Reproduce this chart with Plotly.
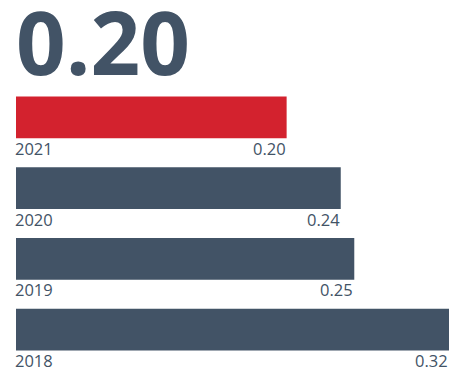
import plotly.graph_objects as go

years = ["2021", "2020", "2019", "2018"]
values = [0.20, 0.24, 0.25, 0.32]
value_labels = ["0.20", "0.24", "0.25", "0.32"]
headline = "0.20"

SLATE = "#425366"
RED = "#d3222e"
bar_colors = [RED, SLATE, SLATE, SLATE]

# bottom-to-top order of the category axis
cat_order = years[::-1]

fig = go.Figure(
    go.Bar(
        x=values,
        y=years,
        orientation="h",
        marker=dict(color=bar_colors, line=dict(width=0)),
        hoverinfo="skip",
    )
)

label_font = dict(family="Open Sans", size=16.5, color=SLATE)

annotations = []
for yr, v, lbl in zip(years, values, value_labels):
    pos = cat_order.index(yr)
    # year under the left edge of the bar
    annotations.append(dict(
        x=0, y=pos, xref="x", yref="y", text=yr, showarrow=False,
        xanchor="left", yanchor="middle", yshift=-31, xshift=-3,
        font=label_font,
    ))
    # value under the right end of the bar
    annotations.append(dict(
        x=v, y=pos, xref="x", yref="y", text=lbl, showarrow=False,
        xanchor="right", yanchor="middle", yshift=-31, xshift=1,
        font=label_font,
    ))

# big headline figure
annotations.append(dict(
    x=0, y=1, xref="paper", yref="paper", text=f"<b>{headline}</b>",
    showarrow=False, xanchor="left", yanchor="bottom", xshift=-2, yshift=-20,
    font=dict(family="Open Sans", size=87, color=SLATE, weight=800),
))

fig.update_layout(
    width=459, height=367,
    margin=dict(l=16, r=10, t=82, b=2, autoexpand=False),
    paper_bgcolor="white", plot_bgcolor="white",
    bargap=0.407,
    showlegend=False,
    xaxis=dict(range=[0, 0.32], showgrid=False, zeroline=False,
               showticklabels=False, ticks="", showline=False),
    yaxis=dict(type="category", categoryorder="array",
               categoryarray=cat_order, range=[-0.5, 3.5],
               showgrid=False, zeroline=False, showticklabels=False,
               ticks="", showline=False),
    annotations=annotations,
)

fig.write_html("out.html")
